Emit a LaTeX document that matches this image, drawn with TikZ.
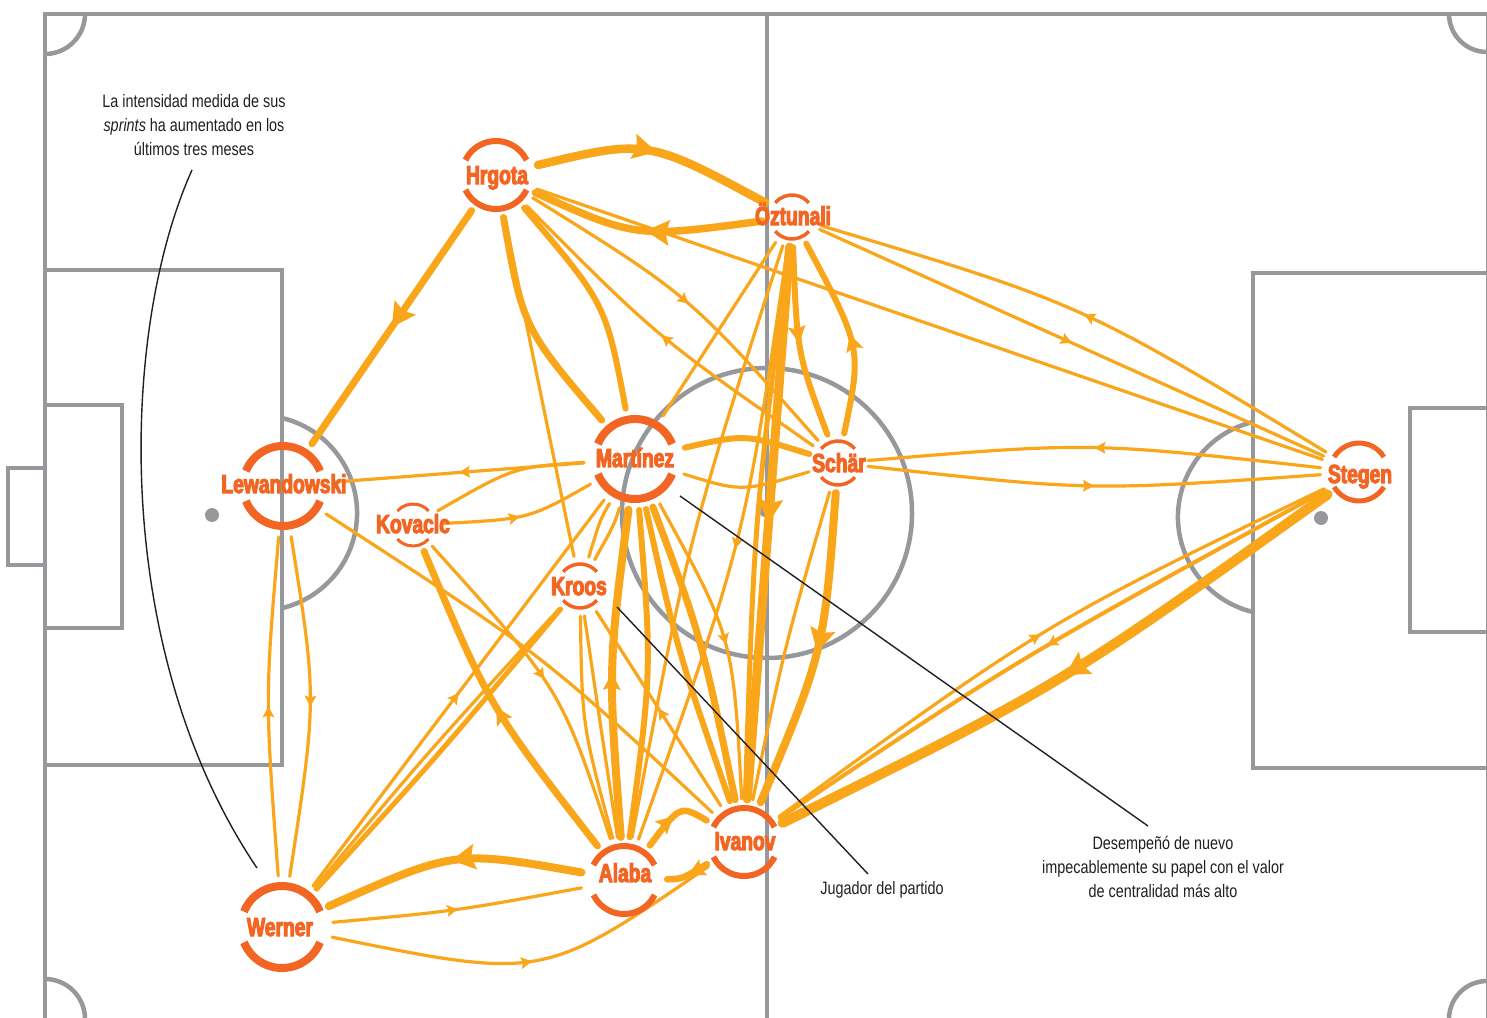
\documentclass[tikz,border=0pt]{standalone}
\usepackage{fontspec}
\usetikzlibrary{arrows.meta,decorations.markings}
\newfontfamily\labfont[FakeStretch=0.74, FakeBold=4]{Liberation Sans Bold}
\newfontfamily\notefont[FakeStretch=0.8]{Liberation Sans}
\definecolor{edc}{HTML}{F9A61B}
\definecolor{ndc}{HTML}{F26522}
\definecolor{fldc}{HTML}{97989B}
\definecolor{inkc}{HTML}{231F20}
\newcommand{\drawring}[4]{%
  \draw[draw=ndc, line width=#4] (#1.center) ++(#3:#2) arc[start angle=#3, end angle=180-#3, radius=#2];
  \draw[draw=ndc, line width=#4] (#1.center) ++(180+#3:#2) arc[start angle=180+#3, end angle=360-#3, radius=#2];
}
\tikzset{
  fld/.style={draw=fldc, line width=4.5pt},
  ew/.style={draw=edc, line width=#1, line cap=round},
  ahs/.style={postaction={decorate,decoration={markings,mark=at position #1 with {\arrow{Stealth[length=11pt,width=12pt,inset=2pt,line width=0pt]}}}}},
  ahs/.default=0.5,
  ahm/.style={postaction={decorate,decoration={markings,mark=at position #1 with {\arrow{Stealth[length=17pt,width=18pt,inset=3pt,line width=0pt]}}}}},
  ahm/.default=0.5,
  ahl/.style={postaction={decorate,decoration={markings,mark=at position #1 with {\arrow{Stealth[length=24pt,width=26pt,inset=4pt,line width=0pt]}}}}},
  ahl/.default=0.5,
  nbig/.style={circle, inner sep=0pt, minimum size=102pt},
  nmed/.style={circle, inner sep=0pt, minimum size=86pt},
  nsml/.style={circle, inner sep=0pt, minimum size=60pt},
  lab/.style={text=ndc, font=\labfont\fontsize{26}{28}\selectfont, anchor=base, inner sep=0pt},
  note/.style={text=inkc, font=\notefont\fontsize{18}{24}\selectfont, align=center, inner sep=0pt},
  ptr/.style={draw=inkc, line width=1.4pt},
}
\begin{document}
\begin{tikzpicture}[x=1pt,y=-1pt]
\useasboundingbox (0,0) rectangle (1487,1017);
\clip (0,0) rectangle (1487,1017);
\fill[white] (0,0) rectangle (1487,1017);
% ---------- field ----------
\draw[fld] (1490,14) -- (45,14) -- (45,1020);
\draw[fld] (1488,14) -- (1488,1020);
\draw[fld] (767,14) -- (767,1020);
\draw[fld] (45,270) rectangle (282,765);
\draw[fld] (45,405) rectangle (122,628);
\draw[fld] (45,468) -- (8,468) -- (8,565) -- (45,565);
\draw[fld] (1490,273) -- (1253,273) -- (1253,768) -- (1490,768);
\draw[fld] (1490,408) -- (1410,408) -- (1410,632) -- (1490,632);
\draw[fld] (767,513) circle[radius=145];
\fill[fldc] (765,511) circle[radius=6];
\fill[fldc] (212,515) circle[radius=7];
\fill[fldc] (1321,518) circle[radius=7];
\draw[fld] (282,418) arc[start angle=-76.6, end angle=76.6, radius=97.7];
\draw[fld] (1253,612) arc[start angle=103.4, end angle=256.6, radius=97.7];
\draw[fld] (85,14) arc[start angle=0, end angle=90, radius=40];
\draw[fld] (1449,14) arc[start angle=180, end angle=90, radius=38];
\draw[fld] (45,979) arc[start angle=-90, end angle=0, radius=40];
\draw[fld] (1449,1019) arc[start angle=180, end angle=270, radius=38];
% ---------- player nodes ----------
\node[nmed] (hr) at (496,175) {};
\node[nsml] (oz) at (792,217) {};
\node[nbig] (lw) at (283,486) {};
\node[circle, inner sep=0pt, minimum size=57pt] (kv) at (413,525) {};
\node[nbig] (ma) at (635,459) {};
\node[nsml] (sc) at (838,463) {};
\node[nsml] (kr) at (580,586) {};
\node[circle, inner sep=0pt, minimum size=77pt] (st) at (1359,472) {};
\node[nmed] (al) at (624,880) {};
\node[nmed] (iv) at (744,842) {};
\node[nbig] (we) at (282,927) {};
% ---------- passes ----------
\draw[ew=8.5pt, ahl] (hr) .. controls (647,139) .. (oz);
\draw[ew=7.5pt, ahl] (oz) .. controls (636,238) .. (hr);
\draw[ew=7pt, ahl] (hr) -- (lw);
\draw[ew=7pt] (hr) .. controls (523,328) .. (ma);
\draw[ew=6pt] (hr) .. controls (606,304) .. (ma);
\draw[ew=3.2pt] (hr) -- (kr);
\draw[ew=3.2pt, ahs] (hr) .. controls (689,295) .. (sc);
\draw[ew=3.2pt, ahs] (sc) .. controls (657,337) .. (hr);
\draw[ew=3.2pt] (hr) -- (st);
\draw[ew=3.2pt, ahs] (oz) -- (st);
\draw[ew=3.2pt, ahs] (st) .. controls (1080,303) .. (oz);
\draw[ew=3.2pt] (oz) -- (ma);
\draw[ew=3.2pt] (oz) .. controls (688,540) .. (al);
\draw[ew=3.2pt, ahs] (oz) .. controls (745,540) .. (al);
\draw[ew=9pt, ahl] (oz) -- (iv);
\draw[ew=5pt] (iv) .. controls (754,524) .. (oz);
\draw[ew=6pt, ahm] (oz) .. controls (797,353) .. (sc);
\draw[ew=6pt, ahm] (sc) .. controls (862,348) .. (oz);
\draw[ew=6pt] (ma) .. controls (745,434) .. (sc);
\draw[ew=3.2pt] (sc) .. controls (742,492) .. (ma);
\draw[ew=3.2pt, ahs] (st) .. controls (1090,442) .. (sc);
\draw[ew=3.2pt, ahs] (sc) .. controls (1090,491) .. (st);
\draw[ew=3.2pt, ahs] (ma) -- (lw);
\draw[ew=3.2pt, ahs] (kv) .. controls (529,519) .. (ma);
\draw[ew=3.2pt] (ma) .. controls (514,467) .. (kv);
\draw[ew=3.2pt] (ma) .. controls (600,520) .. (kr);
\draw[ew=3.2pt] (ma) .. controls (614,525) .. (kr);
\draw[ew=7pt, ahm] (al) .. controls (490,708) .. (kv);
\draw[ew=3.2pt, ahs] (kv) .. controls (561,689) .. (al);
\draw[ew=3.2pt] (lw) .. controls (542,654) .. (iv);
\draw[ew=3.2pt, ahs] (lw) .. controls (317,698) .. (we);
\draw[ew=3.2pt, ahs] (we) .. controls (265,698) .. (lw);
\draw[ew=8pt, ahl] (al) .. controls (455,850) .. (we);
\draw[ew=3.2pt, ahs] (we) .. controls (456,911) .. (al);
\draw[ew=3.2pt, ahs] (we) .. controls (543,980) .. (iv);
\draw[ew=3.2pt, ahs] (we) -- (ma);
\draw[ew=5pt] (we) .. controls (435,759) .. (kr);
\draw[ew=3.2pt] (kr) .. controls (427,753) .. (we);
\draw[ew=3.2pt] (kr) .. controls (582,725) .. (al);
\draw[ew=3.2pt] (kr) .. controls (600,722) .. (al);
\draw[ew=3.2pt, ahs] (iv) -- (kr);
\draw[ew=8pt, ahm] (al) .. controls (608,668) .. (ma);
\draw[ew=6pt] (ma) .. controls (652,670) .. (al);
\draw[ew=6pt] (ma) .. controls (677,649) .. (iv);
\draw[ew=7pt] (ma) .. controls (701,636) .. (iv);
\draw[ew=3.2pt, ahs] (ma) .. controls (733,637) .. (iv);
\draw[ew=8pt, ahl] (sc) .. controls (824,651) .. (iv);
\draw[ew=3.2pt] (sc) .. controls (785,645) .. (iv);
\draw[ew=10pt, ahl] (st) .. controls (1061,685) .. (iv);
\draw[ew=3.2pt, ahs] (iv) .. controls (1047,622) .. (st);
\draw[ew=4pt, ahs] (st) .. controls (1016,660) .. (iv);
\draw[ew=6.5pt, ahm] (al) .. controls (680,805) .. (iv);
\draw[ew=6.5pt, ahm] (iv) .. controls (682,879) .. (al);
% ---------- rings ----------
\drawring{hr}{34}{26}{6pt}
\drawring{oz}{22}{40}{3.5pt}
\drawring{lw}{40}{22}{8pt}
\drawring{kv}{21}{42}{3pt}
\drawring{ma}{40}{22}{8pt}
\drawring{sc}{22}{40}{3.5pt}
\drawring{kr}{22}{40}{3.5pt}
\drawring{st}{29}{31}{5pt}
\drawring{al}{34}{26}{6pt}
\drawring{iv}{34}{26}{6pt}
\drawring{we}{41}{22}{8pt}
% ---------- labels ----------
\node[lab] (hrl) at (497,184) {Hrgota};
\node[lab] (ozl) at (793,225) {Öztunali};
\node[lab] (lwl) at (284,493) {Lewandowski};
\node[lab] (kvl) at (413,533) {Kovaclc};
\node[lab] (mal) at (635,467) {Martínez};
\node[lab] (scl) at (839,472) {Schär};
\node[lab] (krl) at (579,595) {Kroos};
\node[lab] (stl) at (1360,483) {Stegen};
\node[lab] (all) at (625,882) {Alaba};
\node[lab] (ivl) at (745,850) {Ivanov};
\node[lab] (wel) at (280,936) {Werner};
% ---------- annotations ----------
\node[note, anchor=north] (n1) at (194,94) {La intensidad medida de sus\\\textit{sprints} ha aumentado en los\\últimos tres meses};
\node[note] (n2) at (882,890) {Jugador del partido};
\node[note, anchor=north] (n3) at (1163,836) {Desempeñó de nuevo\\impecablemente su papel con el valor\\de centralidad más alto};
\coordinate (p1a) at (192,170);
\coordinate (p1b) at (257,868);
\coordinate (p2a) at (617,607);
\coordinate (p2b) at (868,874);
\coordinate (p3a) at (680,496);
\coordinate (p3b) at (1148,826);
\draw[ptr] (p1a) .. controls (120,330) and (110,650) .. (p1b);
\draw[ptr] (p2a) -- (p2b);
\draw[ptr] (p3a) -- (p3b);
\end{tikzpicture}
\end{document}
